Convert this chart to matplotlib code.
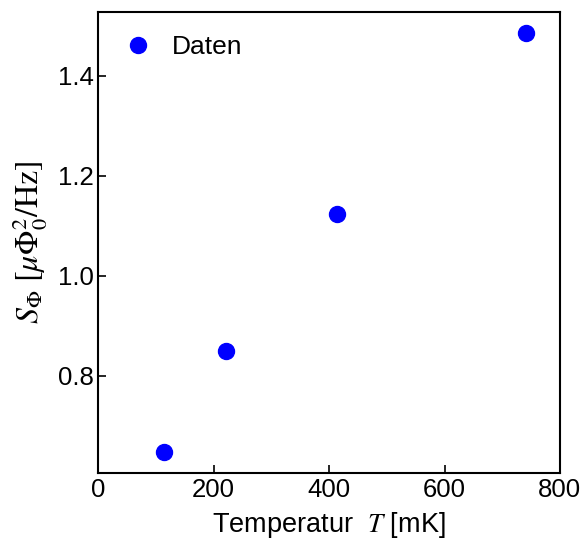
import matplotlib
matplotlib.use('Agg')
import matplotlib.pyplot as plt

# Messdaten
temperatur = [114, 221, 414, 742]        # mK
rauschen = [0.648, 0.849, 1.123, 1.486]  # µΦ0²/Hz

plt.rcParams['font.family'] = ['Liberation Sans', 'DejaVu Sans']
plt.rcParams['mathtext.fontset'] = 'stix'

fig = plt.figure(figsize=(5.82, 5.45), dpi=100)
ax = fig.add_axes([0.169, 0.1327, 0.793, 0.8458])

ax.plot(temperatur, rauschen, 'o', color='blue', markersize=11.5, label='Daten')

ax.set_xlim(0, 800)
ax.set_xticks([0, 200, 400, 600, 800])
ax.set_yticks([0.8, 1.0, 1.2, 1.4])
ax.set_xlabel(r'Temperatur  $T$ [mK]', fontsize=19.5, labelpad=6)
ax.set_ylabel(r'$S_\Phi\ [\mu\Phi_0^2/\mathrm{Hz}]$', fontsize=23, labelpad=6)

ax.tick_params(direction='in', length=6, width=1.2, labelsize=18.5)
for s in ax.spines.values():
    s.set_linewidth(1.5)

ax.legend(loc='upper left', frameon=False, fontsize=19,
          handlelength=1.17, handletextpad=0.72)

fig.savefig('out.png', dpi=100)
